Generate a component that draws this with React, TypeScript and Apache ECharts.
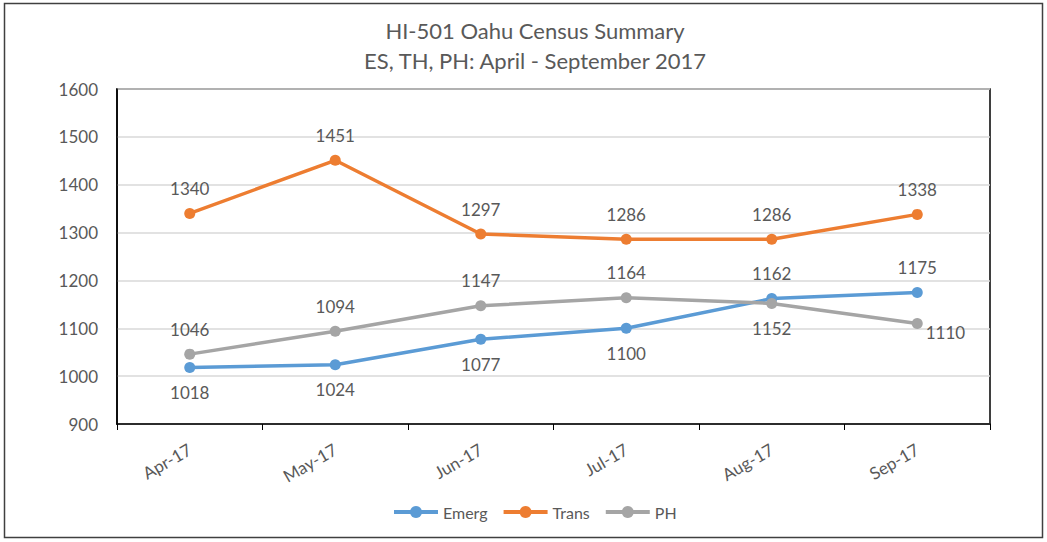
import React, { useEffect, useRef } from "react";
import * as echarts from "echarts";

const categories = ["Apr-17", "May-17", "Jun-17", "Jul-17", "Aug-17", "Sep-17"];
const emerg = [1018, 1024, 1077, 1100, 1162, 1175];
const trans = [1340, 1451, 1297, 1286, 1286, 1338];
const ph = [1046, 1094, 1147, 1164, 1152, 1110];

const emergLabelPos = ["bottom", "bottom", "bottom", "bottom", "top", "top"];
const transLabelPos = ["top", "top", "top", "top", "top", "top"];
const phLabelPos = ["top", "top", "top", "top", "bottom", "right"];

const titleLines = ["HI-501 Oahu Census Summary", "ES, TH, PH: April - September 2017"];

const FONT = "Lato, 'Open Sans', sans-serif";
const TXT = "#595959";

function build(values: number[], pos: string[]) {
  return values.map((v, i) => {
    const p = pos[i];
    const label: any = { position: p };
    if (p === "right") {
      label.distance = 3;
      label.offset = [0, 9];
    }
    return { value: v, label };
  });
}

export default function App() {
  const ref = useRef<HTMLDivElement>(null);
  useEffect(() => {
    if (!ref.current) return;
    const chart = echarts.init(ref.current, undefined, { renderer: "svg" });
    const mk = (name: string, data: number[], color: string, pos: string[]) => ({
      name,
      type: "line",
      data: build(data, pos),
      symbol: "circle",
      symbolSize: 11,
      lineStyle: { width: 3.5, color },
      itemStyle: { color },
      label: {
        show: true,
        distance: 11,
        color: TXT,
        fontFamily: FONT,
        fontSize: 17,
      },
    });
    chart.setOption({
      animation: false,
      backgroundColor: "#ffffff",
      grid: {
        left: 117,
        right: 57,
        top: 89,
        bottom: 118,
        show: true,
        borderColor: "#000000",
        borderWidth: 1.5,
        containLabel: false,
      },
      legend: {
        bottom: 17,
        left: 387,
        itemWidth: 44,
        itemHeight: 15,
        itemGap: 14,
        lineStyle: { width: 4 },
        textStyle: { color: TXT, fontFamily: FONT, fontSize: 16 },
        data: ["Emerg", "Trans", "PH"],
      },
      xAxis: {
        type: "category",
        data: categories,
        boundaryGap: true,
        axisLine: { lineStyle: { color: "#000000", width: 1.5 } },
        axisTick: { show: true, alignWithLabel: false, length: 6, lineStyle: { color: "#000000" } },
        axisLabel: {
          rotate: 30,
          color: TXT,
          fontFamily: FONT,
          fontSize: 17,
          margin: 24,
        },
      },
      yAxis: {
        type: "value",
        min: 900,
        max: 1600,
        interval: 100,
        axisLine: { show: true, lineStyle: { color: "#000000", width: 1.5 } },
        axisTick: { show: false },
        splitLine: { lineStyle: { color: "#d9d9d9", width: 1.5 } },
        axisLabel: {
          color: TXT,
          fontFamily: FONT,
          fontSize: 17,
          margin: 19,
          formatter: (v: number) => String(v),
        },
      },
      graphic: [
        {
          type: "rect",
          shape: { x: 4.5, y: 3.5, width: 1038, height: 534 },
          style: { fill: "none", stroke: "#404040", lineWidth: 1.5 },
          silent: true,
        },
        ...titleLines.map((t, i) => ({
          type: "text",
          x: 535,
          y: 30 + i * 30,
          silent: true,
          style: {
            text: t,
            textAlign: "center",
            textVerticalAlign: "middle",
            fill: TXT,
            font: `22px ${FONT}`,
          },
        })),
      ],
      series: [
        mk("Emerg", emerg, "#5B9BD5", emergLabelPos),
        mk("Trans", trans, "#ED7D31", transLabelPos),
        mk("PH", ph, "#A5A5A5", phLabelPos),
      ],
    });
    return () => chart.dispose();
  }, []);
  return (
    <div
      ref={ref}
      style={{ position: "fixed", left: 0, top: 0, width: 1047, height: 542 }}
    />
  );
}
